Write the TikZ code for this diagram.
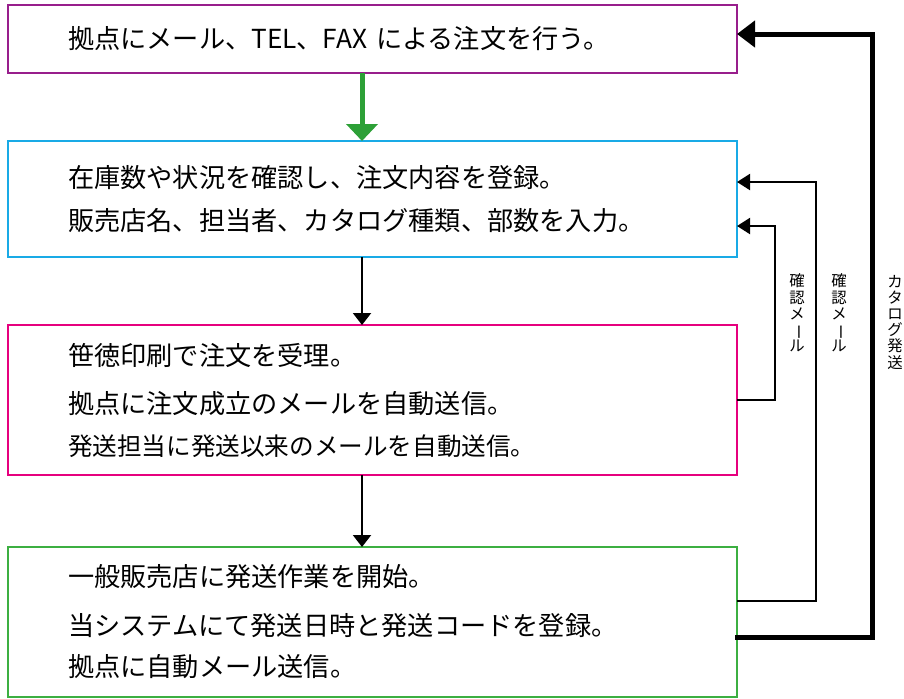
\documentclass[tikz,border=0pt]{standalone}
\usepackage{fontspec}
\setmainfont{Noto Sans CJK JP}
\usepackage{graphicx}
\usepackage{tikz}
\usetikzlibrary{arrows.meta,positioning}

\definecolor{boxpurple}{RGB}{152,30,140}
\definecolor{boxblue}{RGB}{25,170,230}
\definecolor{boxpink}{RGB}{230,0,126}
\definecolor{boxgreen}{RGB}{60,175,65}
\definecolor{arrowgreen}{RGB}{45,160,55}

% vertical long vowel mark
\newcommand{\vchoon}{\rotatebox[origin=c]{-90}{ー}}

\begin{document}
\begin{tikzpicture}[x=0.5pt,y=-0.5pt,
  box/.style={draw,line width=1pt,outer sep=0pt,text width=304.5pt,inner xsep=30pt,align=left,
    font=\fontsize{13.1}{21.5}\selectfont},
  flow/.style={-{Triangle[width=9pt,length=6pt]},line width=1pt},
  gflow/.style={-{Triangle[width=15.5pt,length=8.5pt]},line width=2.5pt,arrowgreen},
  conf/.style={-{Triangle[width=8pt,length=6.5pt]},line width=1pt},
  catalog/.style={-{Triangle[width=13pt,length=9pt]},line width=2.5pt},
  vlabel/.style={align=center,inner sep=0pt,font=\fontsize{7.7}{8.1}\selectfont}]
  \useasboundingbox (0,0) rectangle (904,698);

  % boxes
  \node[box,boxpurple,text=black,minimum height=34pt] (b1) at (372.5,39)
    {拠点にメール、TEL、FAX による注文を行う。};
  \node[box,boxblue,text=black,minimum height=58pt,below=34pt of b1] (b2)
    {在庫数や状況を確認し、注文内容を登録。\\
     販売店名、担当者、カタログ種類、部数を入力。};
  \node[box,boxpink,text=black,minimum height=75pt,below=34pt of b2] (b3)
    {笹徳印刷で注文を受理。\\[2.5pt]
     拠点に注文成立のメールを自動送信。\\[-0.5pt]
     {\fontsize{12.3}{21}\selectfont 発送担当に発送以来のメールを自動送信。}};
  \node[box,boxgreen,text=black,minimum height=75pt,below=36pt of b3] (b4)
    {一般販売店に発送作業を開始。\\[3pt]
     当システムにて発送日時と発送コードを登録。\\[-1pt]
     拠点に自動メール送信。};

  % down arrows
  \coordinate (ax) at (362,0);
  \draw[gflow] (b1.south -| ax) -- (b2.north -| ax);
  \draw[flow] (b2.south -| ax) -- (b3.north -| ax);
  \draw[flow] (b3.south -| ax) -- (b4.north -| ax);

  % return lines
  \draw[conf] (b3.east) -- ++(38,0) |- ([yshift=-13.5pt]b2.east);
  \draw[conf] ([yshift=10.5pt]b4.east) -- ++(79,0) |- ([yshift=8.5pt]b2.east);
  \draw[catalog] ([yshift=-7.5pt,xshift=-1pt]b4.east) -- ++(137,0) |- ([yshift=2.5pt]b1.east);

  % labels
  \node[vlabel] (lbl1) at (797,313) {確\\認\\メ\\\vchoon\\ル};
  \node[vlabel] (lbl2) at (839,313) {確\\認\\メ\\\vchoon\\ル};
  \node[vlabel] (lbl3) at (895,322) {カ\\タ\\ロ\\グ\\発\\送};
\end{tikzpicture}
\end{document}
